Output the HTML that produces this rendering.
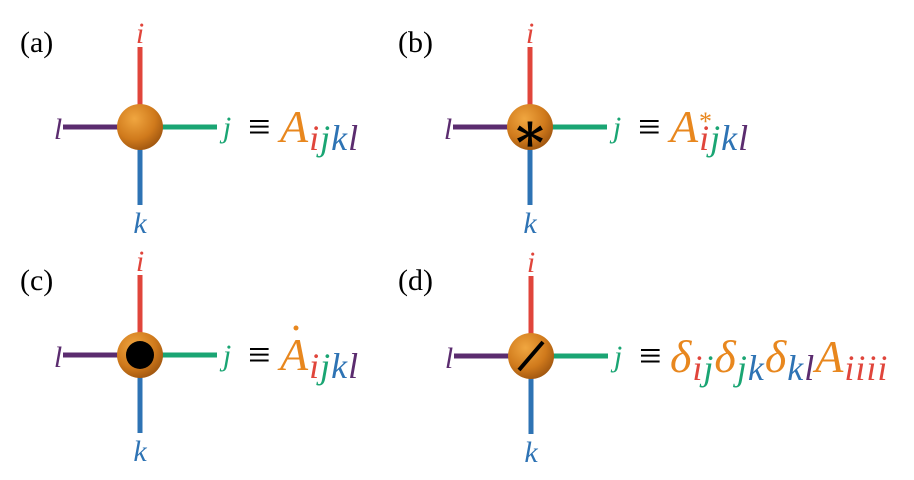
<!DOCTYPE html>
<html><head><meta charset="utf-8"><style>
html,body{margin:0;padding:0;background:#fff;}
svg{display:block}
text{font-family:"Liberation Serif","DejaVu Serif",serif;}
.it{font-style:italic}
</style></head><body>
<svg width="914" height="480" viewBox="0 0 914 480" xmlns="http://www.w3.org/2000/svg">
<defs>
<radialGradient id="g" cx="0.38" cy="0.32" r="0.75">
<stop offset="0" stop-color="#f0a640"/>
<stop offset="0.6" stop-color="#d07a1c"/>
<stop offset="1" stop-color="#9a520e"/>
</radialGradient>
<g id="cross">
<line x1="0" y1="-80" x2="0" y2="78" stroke="#e0453b" stroke-width="5"/>
<line x1="0" y1="0" x2="0" y2="78" stroke="#2e73b4" stroke-width="5"/>
<line x1="-77" y1="0" x2="0" y2="0" stroke="#5b2c6f" stroke-width="5"/>
<line x1="0" y1="0" x2="77" y2="0" stroke="#1aa573" stroke-width="5"/>
<circle r="23" fill="url(#g)"/>
<text x="0" y="-84" font-size="30" fill="#e0453b" text-anchor="middle" class="it">i</text>
<text x="0" y="106" font-size="30" fill="#2e73b4" text-anchor="middle" class="it">k</text>
<text x="-82" y="12" font-size="30" fill="#5b2c6f" text-anchor="middle" class="it">l</text>
<text x="87" y="10" font-size="30" fill="#1aa573" text-anchor="middle" class="it">j</text>
<text x="108" y="13" font-size="40" fill="#000">≡</text>
</g>
</defs>
<text x="20" y="52" font-size="30" fill="#000">(a)</text>
<text x="398" y="52" font-size="30" fill="#000">(b)</text>
<text x="20" y="290" font-size="30" fill="#000">(c)</text>
<text x="398" y="290" font-size="30" fill="#000">(d)</text>

<use href="#cross" x="140" y="127"/>
<use href="#cross" x="530" y="127"/>
<use href="#cross" x="140" y="355"/>
<use href="#cross" x="531" y="356"/>

<!-- b star -->
<text x="530" y="151" font-size="54" font-weight="bold" fill="#000" text-anchor="middle" font-family="DejaVu Sans">∗</text>
<!-- c dot -->
<circle cx="140" cy="355" r="14" fill="#000"/>
<!-- d slash -->
<line x1="519" y1="370" x2="543" y2="342" stroke="#000" stroke-width="4"/>

<!-- formulas -->
<text x="280" y="142" font-size="46" class="it" letter-spacing="1"><tspan fill="#e8871e">A</tspan><tspan font-size="36" dy="8" fill="#e0453b">i</tspan><tspan font-size="36" fill="#1aa573">j</tspan><tspan font-size="36" fill="#2e73b4">k</tspan><tspan font-size="36" fill="#5b2c6f">l</tspan></text>
<text x="670" y="142" font-size="46" class="it" letter-spacing="1"><tspan fill="#e8871e">A</tspan><tspan font-size="36" dy="8" fill="#e0453b">i</tspan><tspan font-size="36" fill="#1aa573">j</tspan><tspan font-size="36" fill="#2e73b4">k</tspan><tspan font-size="36" fill="#5b2c6f">l</tspan></text>
<text x="699" y="130" font-size="26" fill="#e8871e">*</text>
<text x="280" y="370" font-size="46" class="it" letter-spacing="1"><tspan fill="#e8871e">A</tspan><tspan font-size="36" dy="8" fill="#e0453b">i</tspan><tspan font-size="36" fill="#1aa573">j</tspan><tspan font-size="36" fill="#2e73b4">k</tspan><tspan font-size="36" fill="#5b2c6f">l</tspan></text>
<circle cx="296" cy="328" r="2.5" fill="#e8871e"/>
<text x="670" y="372" font-size="46" class="it" letter-spacing="1"><tspan fill="#e8871e">δ</tspan><tspan font-size="36" dy="8" fill="#e0453b">i</tspan><tspan font-size="36" fill="#1aa573">j</tspan><tspan dy="-8" fill="#e8871e">δ</tspan><tspan font-size="36" dy="8" fill="#1aa573">j</tspan><tspan font-size="36" fill="#2e73b4">k</tspan><tspan dy="-8" fill="#e8871e">δ</tspan><tspan font-size="36" dy="8" fill="#2e73b4">k</tspan><tspan font-size="36" fill="#5b2c6f">l</tspan><tspan dy="-8" fill="#e8871e">A</tspan><tspan font-size="36" dy="8" fill="#e0453b">iiii</tspan></text>
</svg>
</body></html>
